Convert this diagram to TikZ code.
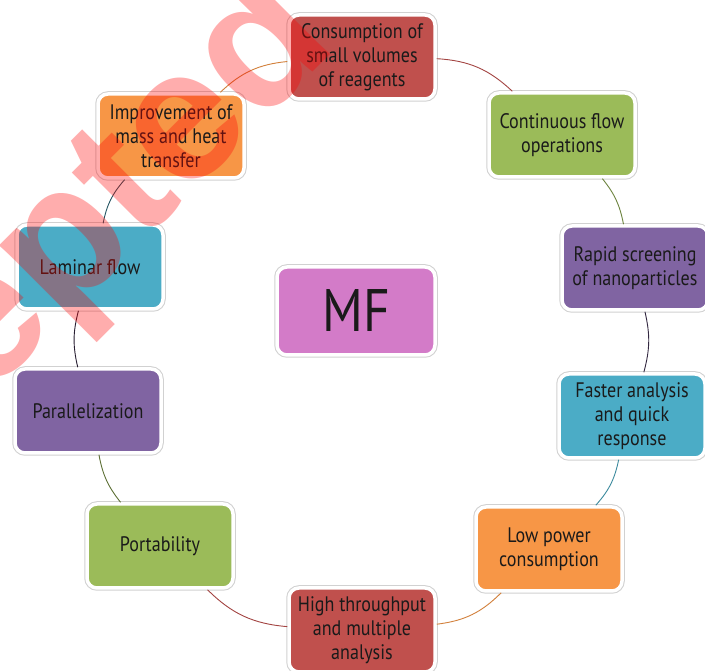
\documentclass[tikz,border=0pt]{standalone}
\usepackage{fontspec}
\setmainfont{PT Sans}[FakeStretch=0.86]
\newfontfamily\wmfont{Liberation Sans}
\definecolor{cred}{HTML}{C0504D}
\definecolor{cgreen}{HTML}{9BBB59}
\definecolor{cpurple}{HTML}{8064A2}
\definecolor{ccyan}{HTML}{4BACC6}
\definecolor{corange}{HTML}{F79646}
\definecolor{cpink}{HTML}{D37BC8}
\definecolor{txt}{HTML}{1A1A1A}
\begin{document}
\begin{tikzpicture}[x=1pt,y=1pt,
  box/.style={rounded corners=10pt, minimum width=146pt, minimum height=84pt,
    draw=white, line width=3.5pt, preaction={draw=black!18, line width=5.5pt},
    align=center, font=\fontsize{21}{24}\selectfont, text=txt, inner sep=2pt},
  link/.style={line width=0.9pt}]
\useasboundingbox (0,0) rectangle (705,671);
\fill[white] (0,0) rectangle (705,671);
% nodes
\node[box, fill=cred]    (c1)  at (362,614) {Consumption of\\small volumes\\of reagents};
\node[box, fill=cgreen]  (c2)  at (562,536) {Continuous flow\\operations};
\node[box, fill=cpurple] (c3)  at (635,403) {Rapid screening\\of nanoparticles};
\node[box, fill=ccyan]   (c4)  at (632,255) {Faster analysis\\and quick\\response};
\node[box, fill=corange] (c5)  at (549,122) {Low power\\consumption};
\node[box, fill=cred]    (c6)  at (362,41)  {High throughput\\and multiple\\analysis};
\node[box, fill=cgreen]  (c7)  at (160,125) {Portability};
\node[box, fill=cpurple] (c8)  at (88,260)  {Parallelization};
\node[box, fill=ccyan]   (c9)  at (90,404)  {Laminar flow};
\node[box, fill=corange] (c10) at (171,535) {Improvement of\\mass and heat\\transfer};
\node[box, fill=cpink, minimum width=158pt, minimum height=88pt,
      font=\fontsize{60}{60}\selectfont] (mf) at (356,360) {MF};
% connectors
\draw[link, cred!85!black]      (c1)  to[bend left=20] (c2);
\draw[link, cgreen!70!black]    (c2)  to[bend left=14] (c3);
\draw[link, cpurple!40!black]   (c3)  to[bend left=14] (c4);
\draw[link, ccyan!80!black]     (c4)  to[bend left=15] (c5);
\draw[link, corange!85!black]   (c5)  to[bend left=19] (c6);
\draw[link, cred!85!black]      (c6)  to[bend left=20] (c7);
\draw[link, cgreen!60!black]    (c7)  to[bend left=14] (c8);
\draw[link, cpurple!30!black]   (c8)  to[bend left=14] (c9);
\draw[link, ccyan!50!black]     (c9)  to[bend left=15] (c10);
\draw[link, corange!85!black]   (c10) to[bend left=19] (c1);
% watermark
\node[anchor=base west, rotate=45, inner sep=0pt, text=red, text opacity=0.32,
      font=\wmfont\bfseries\fontsize{187}{187}\selectfont] (wm) at (-256,30) {Accepted};
\end{tikzpicture}
\end{document}
